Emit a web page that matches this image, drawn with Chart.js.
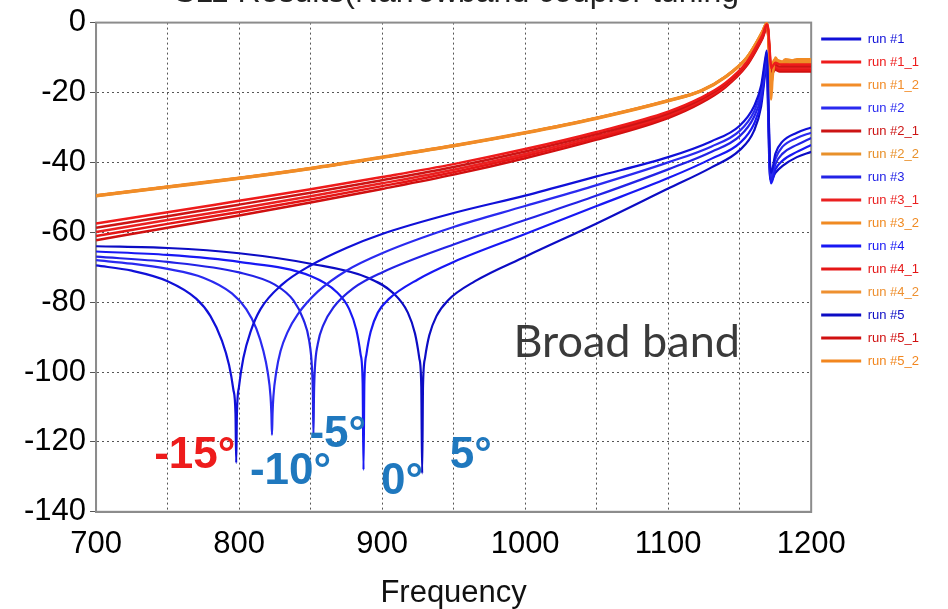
<!DOCTYPE html>
<html>
<head>
<meta charset="utf-8">
<title>S11 Results</title>
<script src="https://cdn.jsdelivr.net/npm/chart.js@4.4.1/dist/chart.umd.min.js"></script>
<style>
  html, body { margin: 0; padding: 0; background: #ffffff; }
  #wrap { width: 948px; height: 609px; }
</style>
</head>
<body>
<div id="wrap"><canvas id="chart" width="948" height="609"></canvas></div>
<script>
// =============================
// DATA
// =============================

const chartTitle = "S11 Results(Narrowband coupler tuning";
const xTitle = "Frequency";

// blue runs: [frequency, dB] points, one notch each
const run1 = [[700,-69.5],[725,-71],[750,-74],[770,-79],[780,-84],[788,-91],[793,-98],[796,-105],[797.5,-112],[798,-126],[798.5,-112],[800,-104],[803,-96],[808,-88.5],[815,-82],[830,-75],[850,-69.5],[875,-64.5],[900,-60.5],[950,-54.5],[1000,-49.5],[1050,-44],[1100,-38.5],[1130,-34],[1150,-29.5],[1160,-24],[1165,-18],[1168,-10],[1169,-8],[1170,-20],[1171,-38],[1172,-43],[1175,-37.5],[1180,-34],[1190,-31.5],[1200,-30]];
const run2 = [[700,-68],[725,-69],[750,-70.5],[775,-73],[795,-77.5],[805,-82],[812,-87.5],[817,-94],[820,-100],[822,-107],[822.6,-112],[823,-118],[823.4,-112],[824,-107],[826,-100],[829,-94],[834,-88.5],[841,-83.5],[855,-77],[875,-71],[900,-66],[950,-58.5],[1000,-52.5],[1050,-46.5],[1100,-40],[1130,-35.5],[1150,-31],[1160,-25.5],[1165,-19.5],[1168,-11],[1169,-8.5],[1170,-22],[1171,-39],[1172,-44],[1175,-39],[1180,-35.5],[1190,-33],[1200,-31.5]];
const run3 = [[700,-67],[750,-68.5],[800,-71.5],[825,-75],[838,-79.5],[845,-85],[849,-91],[851,-99],[851.6,-106],[852,-118],[852.4,-106],[853,-99],[855,-92],[859,-86.5],[866,-81.5],[880,-76],[900,-71.5],[950,-63.5],[1000,-56.5],[1050,-49.5],[1100,-42],[1130,-37],[1150,-32.5],[1160,-27],[1165,-21],[1168,-12],[1169,-9],[1170,-24],[1171,-40],[1172,-45],[1175,-40.5],[1180,-37.5],[1190,-35],[1200,-33]];
const run4 = [[700,-65.5],[750,-66.5],[800,-68.5],[850,-72.5],[868,-77],[877,-82],[882,-88],[885,-95],[886.4,-103],[887,-128],[887.6,-103],[889,-95],[892,-88.5],[897,-83],[905,-79],[925,-73.5],[950,-68.5],[1000,-60.5],[1050,-52.5],[1100,-44.5],[1130,-39],[1150,-34.5],[1160,-29],[1165,-22.5],[1168,-13],[1169,-10],[1170,-26],[1171,-42],[1172,-46],[1175,-42],[1180,-39.5],[1190,-37],[1200,-35]];
const run5 = [[700,-64],[750,-64.5],[800,-66],[850,-69],[890,-73],[908,-77.5],[918,-83],[923,-89],[926,-96],[927.4,-104],[928,-129],[928.6,-104],[930,-96],[933,-89.5],[938,-84],[946,-79.5],[965,-74],[1000,-67],[1050,-57.5],[1100,-47.5],[1130,-41.5],[1150,-36.5],[1160,-31],[1165,-24],[1168,-14],[1169,-11],[1170,-28],[1171,-43],[1172,-45],[1175,-43],[1180,-41],[1190,-38.5],[1200,-37]];

// red and orange runs share one frequency list
const bandFreq = [700,750,800,850,900,950,1000,1050,1100,1123,1140,1155,1162,1166,1169,1170,1171,1172,1173,1175,1178,1182,1190,1200];
const run1_1 = [-57.5,-54.3,-51,-47.7,-44.2,-40.5,-36.2,-31.3,-25.5,-21.5,-17.3,-11.3,-6.5,-3.5,-0.5,-2,-8,-13,-12.5,-11.5,-12,-12,-12,-12];
const run2_1 = [-58.7,-55.4,-52.1,-48.7,-45.1,-41.3,-36.9,-31.9,-26,-21.9,-17.6,-11.5,-6.8,-3.7,-0.8,-2.5,-9,-14,-13,-12,-12.5,-12.5,-12.5,-12.5];
const run3_1 = [-59.9,-56.5,-53.2,-49.7,-46,-42.1,-37.6,-32.5,-26.5,-22.3,-17.9,-11.8,-7,-4,-1,-3,-10,-14.5,-13.5,-12.5,-13,-13,-13,-13];
const run4_1 = [-61.1,-57.6,-54.2,-50.6,-46.8,-42.8,-38.2,-33,-26.9,-22.6,-18.2,-12,-7.3,-4.2,-1.2,-3.5,-10.5,-15,-14,-13,-13.5,-13.5,-13.5,-13.5];
const run5_1 = [-62.3,-58.7,-55.2,-51.5,-47.6,-43.5,-38.8,-33.5,-27.3,-23,-18.5,-12.3,-7.6,-4.5,-1.5,-4,-11,-15.5,-14.5,-13.5,-14,-14,-14,-14];
const run1_2 = [-49.5,-47,-44.5,-41.7,-38.5,-35.2,-31.5,-27.3,-22.3,-19.5,-15.5,-10,-5.5,-2.5,0,-3,-12,-22,-16,-10,-12,-10.5,-11,-11];
const run2_2 = [-49.6,-47.1,-44.6,-41.8,-38.6,-35.3,-31.6,-27.4,-22.4,-19.6,-15.6,-10.1,-5.6,-2.6,-0.2,-3.5,-11,-19,-14,-11,-11.5,-11,-11.5,-11.5];
const run3_2 = [-49.4,-46.9,-44.4,-41.6,-38.4,-35.1,-31.4,-27.2,-22.2,-19.4,-15.4,-9.9,-5.4,-2.4,0,-2.5,-10,-16,-12,-10.5,-11,-11.5,-10.5,-10.5];
const run4_2 = [-49.5,-47,-44.5,-41.7,-38.5,-35.2,-31.5,-27.3,-22.3,-19.5,-15.5,-10,-5.5,-2.5,-0.1,-4,-13,-17,-13,-11.5,-12,-11,-11,-11.5];
const run5_2 = [-49.7,-47.2,-44.7,-41.9,-38.7,-35.4,-31.7,-27.5,-22.5,-19.7,-15.7,-10.2,-5.7,-2.7,-0.3,-3,-11.5,-18,-14.5,-11,-11,-12,-12,-12];

const xTicks = [700, 800, 900, 1000, 1100, 1200];
const yTicks = [0, -20, -40, -60, -80, -100, -120, -140];

// angle labels under the notches: [text, freq, dB]
const angleNotes = [["-15°", 769, -124], ["-10°", 836, -128.5], ["-5°", 869, -118], ["0°", 914, -131.5], ["5°", 962, -124]];
const bandNote = ["Broad band", 1071, -91.5];

// =============================
// BUILD DATASETS
// =============================

function pairs(list) {
  return list.map(p => ({ x: p[0], y: p[1] }));
}

function onBand(values) {
  return values.map((v, i) => ({ x: bandFreq[i], y: v }));
}

function line(label, data, color, width) {
  return {
    label: label,
    data: data,
    borderColor: color,
    backgroundColor: color,
    borderWidth: width,
    pointRadius: 0,
    cubicInterpolationMode: "monotone",
    fill: false
  };
}

const BLUE = ["#1010d8", "#2a2af0", "#2323e6", "#1818f4", "#0c0cc4"];
const RED = ["#ee1b1b", "#cc1414", "#ea2020", "#e51616", "#d01010"];
const ORANGE = ["#f28c28", "#e8902a", "#f08a22", "#ee9030", "#f2861e"];

const datasets = [
  line("run #1", pairs(run1), BLUE[0], 2.2),
  line("run #1_1", onBand(run1_1), RED[0], 2.5),
  line("run #1_2", onBand(run1_2), ORANGE[0], 2.5),
  line("run #2", pairs(run2), BLUE[1], 2.2),
  line("run #2_1", onBand(run2_1), RED[1], 2.5),
  line("run #2_2", onBand(run2_2), ORANGE[1], 2.5),
  line("run #3", pairs(run3), BLUE[2], 2.2),
  line("run #3_1", onBand(run3_1), RED[2], 2.5),
  line("run #3_2", onBand(run3_2), ORANGE[2], 2.5),
  line("run #4", pairs(run4), BLUE[3], 2.2),
  line("run #4_1", onBand(run4_1), RED[3], 2.5),
  line("run #4_2", onBand(run4_2), ORANGE[3], 2.5),
  line("run #5", pairs(run5), BLUE[4], 2.2),
  line("run #5_1", onBand(run5_1), RED[4], 2.5),
  line("run #5_2", onBand(run5_2), ORANGE[4], 2.5)
];

// =============================
// PLUGINS (frame, title, notes)
// =============================

const framePlugin = {
  id: "frame",
  beforeDatasetsDraw(chart) {
    const a = chart.chartArea;
    const ctx = chart.ctx;
    ctx.save();
    ctx.strokeStyle = "#8c8c8c";
    ctx.lineWidth = 2;
    ctx.setLineDash([]);
    ctx.strokeRect(a.left, a.top, a.right - a.left, a.bottom - a.top);
    ctx.restore();
  }
};

const notesPlugin = {
  id: "notes",
  afterDatasetsDraw(chart) {
    const ctx = chart.ctx;
    const xs = chart.scales.x;
    const ys = chart.scales.y;
    ctx.save();
    ctx.textAlign = "center";
    ctx.textBaseline = "middle";
    ctx.font = "bold 44px 'Liberation Sans', Arial, sans-serif";
    angleNotes.forEach((n, i) => {
      ctx.fillStyle = i === 0 ? "#ee1c1c" : "#1f78be";
      ctx.fillText(n[0], xs.getPixelForValue(n[1]), ys.getPixelForValue(n[2]));
    });
    ctx.font = "45px Lato, 'DejaVu Sans', sans-serif";
    ctx.fillStyle = "#3a3a3a";
    ctx.fillText(bandNote[0], xs.getPixelForValue(bandNote[1]), ys.getPixelForValue(bandNote[2]));

    // title sits mostly above the canvas, only its lower part shows
    const a = chart.chartArea;
    ctx.font = "32px 'Liberation Sans', Arial, sans-serif";
    ctx.fillStyle = "#222222";
    ctx.textBaseline = "alphabetic";
    ctx.fillText(chartTitle, (a.left + a.right) / 2 + 3, 2);
    ctx.restore();
  }
};

// =============================
// CHART
// =============================

document.addEventListener("DOMContentLoaded", () => {

  const tickFont = { family: "'Liberation Sans', Arial, sans-serif", size: 31 };

  new Chart(document.getElementById("chart"), {
    type: "line",
    data: { datasets: datasets },
    options: {
      responsive: false,
      animation: false,
      devicePixelRatio: 1,
      layout: { padding: { left: 20, top: 19, right: 19, bottom: 0 } },
      plugins: {
        title: { display: false },
        tooltip: { enabled: false },
        legend: {
          position: "right",
          align: "start",
          fullSize: false,
          labels: {
            boxWidth: 40,
            boxHeight: 3,
            padding: 10,
            font: { family: "'Liberation Sans', Arial, sans-serif", size: 13 },
            generateLabels: (chart) => chart.data.datasets.map((ds, i) => ({
              text: ds.label,
              fillStyle: ds.borderColor,
              strokeStyle: ds.borderColor,
              lineWidth: 0,
              fontColor: ds.borderColor,
              hidden: false,
              datasetIndex: i
            }))
          }
        }
      },
      scales: {
        x: {
          type: "linear",
          min: 700,
          max: 1200,
          border: { display: true, color: "#8c8c8c", width: 2, dash: [2, 3] },
          grid: { color: "#555555", lineWidth: 1, drawTicks: false },
          ticks: {
            stepSize: 50,
            padding: 14,
            color: "#000000",
            font: tickFont,
            maxRotation: 0,
            autoSkip: false,
            callback: (v) => xTicks.includes(v) ? String(v) : ""
          },
          title: {
            display: true,
            text: xTitle,
            color: "#111111",
            font: { family: "'Liberation Sans', Arial, sans-serif", size: 31, lineHeight: 1.0 },
            padding: { top: 1, bottom: 0 }
          }
        },
        y: {
          min: -140,
          max: 0,
          border: { display: true, color: "#8c8c8c", width: 2, dash: [2, 3] },
          grid: { color: "#555555", lineWidth: 1, tickLength: 6, tickBorderDash: [], tickColor: "#555555" },
          ticks: {
            stepSize: 20,
            padding: 4,
            color: "#000000",
            font: tickFont,
            callback: (v) => yTicks.includes(v) ? String(v) : ""
          }
        }
      }
    },
    plugins: [framePlugin, notesPlugin]
  });

});
</script>
</body>
</html>
